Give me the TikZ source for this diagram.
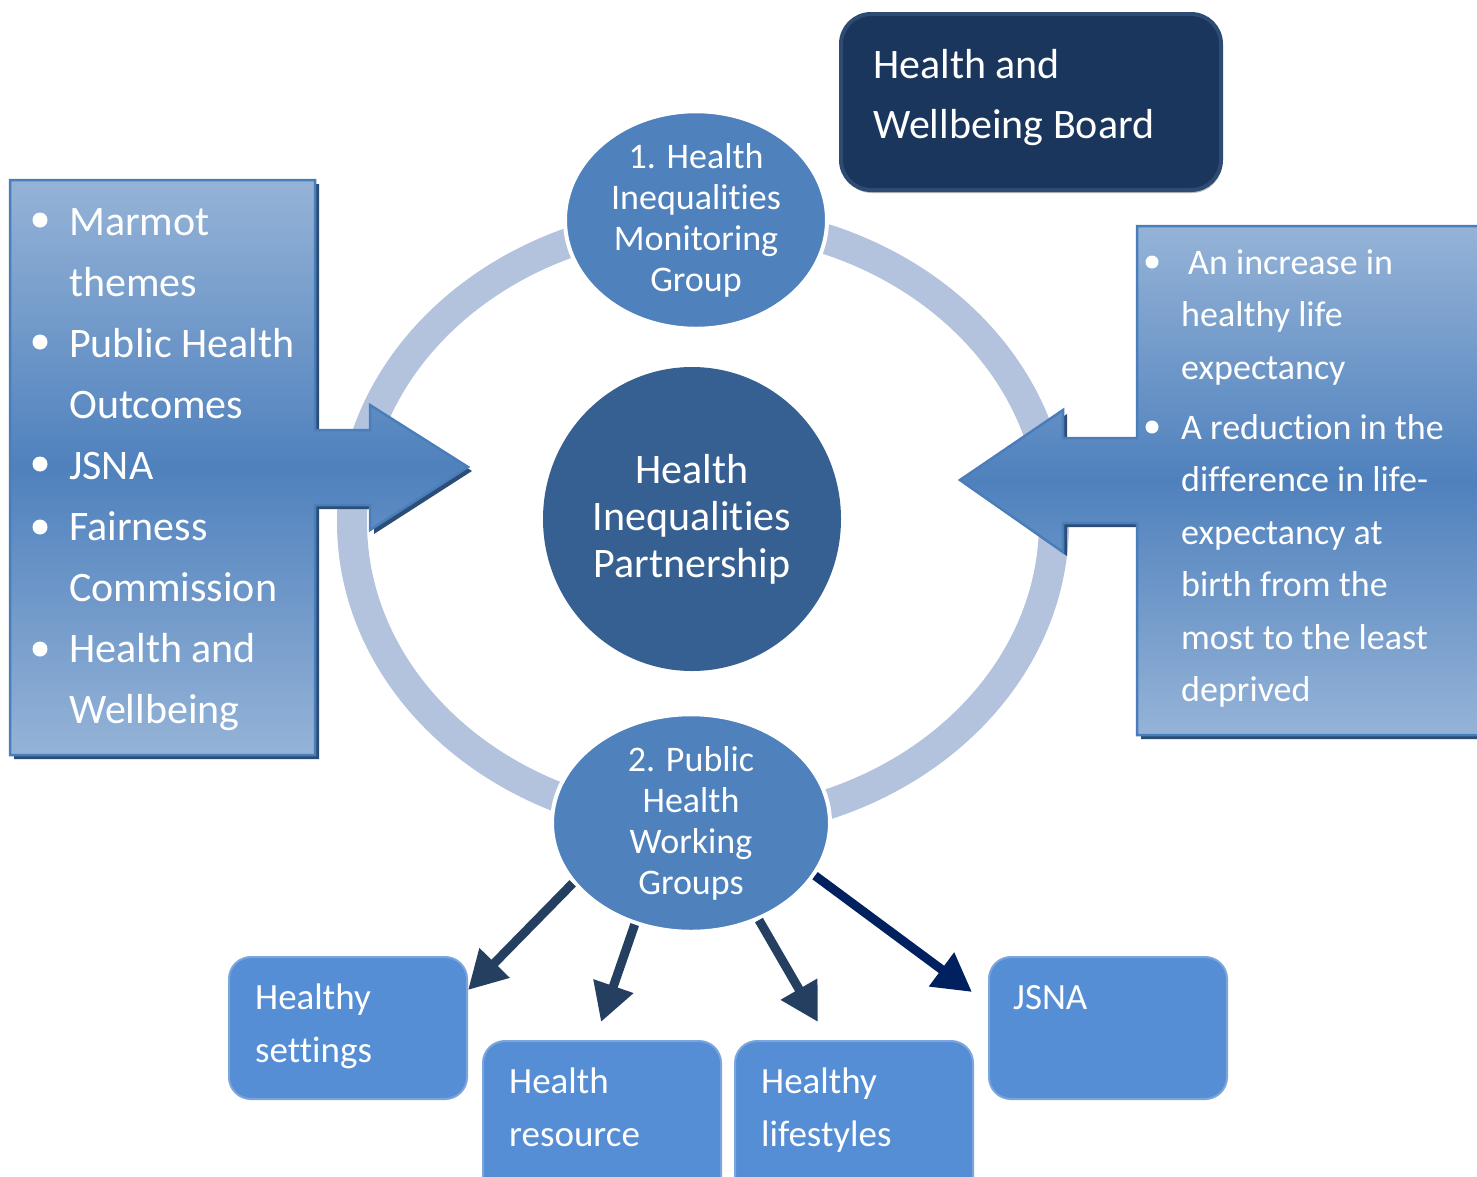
\documentclass[tikz,border=0pt]{standalone}
\usepackage{fontspec}
\setmainfont{Carlito}[Ligatures=NoCommon]
\usetikzlibrary{shapes.geometric,arrows.meta}
\definecolor{ringc}{HTML}{B3C2DD}
\definecolor{midblue}{HTML}{4F81BD}
\definecolor{lightblue}{HTML}{95B3D7}
\definecolor{darkcirc}{HTML}{376092}
\definecolor{boardc}{HTML}{1B365D}
\definecolor{boardedge}{HTML}{2E4B73}
\definecolor{boxc}{HTML}{558ED5}
\definecolor{boxedge}{HTML}{7AA5DD}
\definecolor{shadowc}{HTML}{2C4D75}
\definecolor{calloutedge}{HTML}{4A7EBB}
\definecolor{arrowc}{HTML}{243F60}
\definecolor{arrowd}{HTML}{002060}
\begin{document}
\begin{tikzpicture}[x=1pt,y=-1pt,
  wtxt/.style={text=white, inner sep=0pt},
  circ/.style={ellipse, fill=midblue, draw=white, line width=4pt, inner sep=0pt, text=white, align=center},
  smallbox/.style={rounded corners=22pt, fill=boxc, draw=boxedge, line width=2pt, inner sep=0pt},
  conn/.style={arrowc, line width=9pt, -{Triangle[length=38pt,width=40pt]}},
  bul/.style={circle, fill=white, inner sep=0pt, minimum size=15pt},
  callout/.style={top color=lightblue, bottom color=lightblue, middle color=midblue, draw=calloutedge, line width=2.5pt}
]
\useasboundingbox (0,0) rectangle (1477,1176);
\clip (0,0) rectangle (1477,1176);
\fill[white] (0,0) rectangle (1477,1176);

% ring
\draw[ringc, line width=30pt] (703,522) ellipse [x radius=351, y radius=302];

% left callout
\fill[shadowc] (14,184) -- (319,184) -- (319,434) -- (374,434) -- (374,409) -- (472,471) -- (374,534) -- (374,509) -- (319,509) -- (319,759) -- (14,759) -- cycle;
\path[callout] (10,180) -- (315,180) -- (315,430) -- (370,430) -- (370,405) -- (468,467) -- (370,530) -- (370,505) -- (315,505) -- (315,755) -- (10,755) -- cycle;

% right callout
\fill[shadowc] (1141,230) -- (1494,230) -- (1494,739) -- (1141,739) -- (1141,527) -- (1067,527) -- (1067,556) -- (964,484) -- (1067,414) -- (1067,442) -- (1141,442) -- cycle;
\path[callout] (1137,226) -- (1490,226) -- (1490,735) -- (1137,735) -- (1137,523) -- (1063,523) -- (1063,552) -- (960,480) -- (1063,410) -- (1063,438) -- (1137,438) -- cycle;

% board
\fill[gray!55, rounded corners=30pt] (842,18) rectangle (1222,193);
\node[rounded corners=30pt, fill=boardc, draw=boardedge, line width=4pt, minimum width=380pt, minimum height=176pt, anchor=north west, inner sep=0pt] (hwb) at (839,12) {};
\node[wtxt, anchor=base west, font=\fontsize{42}{60}\selectfont] (hwbt) at (873,78) {\parbox[t]{340pt}{Health and\\Wellbeing Board}};

% circles
\node[circ, minimum width=262pt, minimum height=208pt, font=\fontsize{36}{41}\selectfont] (hm) at (696,220) {1. Health\\Inequalities\\Monitoring\\Group};
\node[circ, fill=darkcirc, draw=none, minimum width=298pt, minimum height=304pt, font=\fontsize{42}{47}\selectfont] (hp) at (692,519) {Health\\Inequalities\\Partnership};
\node[circ, minimum width=278pt, minimum height=208pt, font=\fontsize{36}{41}\selectfont] (pw) at (691,823) {2. Public\\Health\\Working\\Groups};

% left list
\node[bul] (lb1) at (40,220) {};
\node[bul] (lb2) at (40,342) {};
\node[bul] (lb3) at (40,464) {};
\node[bul] (lb4) at (40,527) {};
\node[bul] (lb5) at (40,649) {};
\node[wtxt, anchor=base west, font=\fontsize{42}{61}\selectfont] (lt) at (69,235) {\parbox[t]{260pt}{Marmot\\themes\\Public Health\\Outcomes\\JSNA\\Fairness\\Commission\\Health and\\Wellbeing}};

% right list
\node[bul, minimum size=13pt] (rb1) at (1152,262) {};
\node[bul, minimum size=13pt] (rb2) at (1152,427) {};
\node[wtxt, anchor=base west, font=\fontsize{36}{52.5}\selectfont] (rt1) at (1181,274) {\parbox[t]{290pt}{\hspace*{7pt}An increase in\\healthy life\\expectancy}};
\node[wtxt, anchor=base west, font=\fontsize{36}{52.5}\selectfont] (rt2) at (1181,439) {\parbox[t]{290pt}{A reduction in the\\difference in life-\\expectancy at\\birth from the\\most to the least\\deprived}};

% bottom boxes
\node[smallbox, minimum width=238pt, minimum height=142pt, anchor=north west] (hs) at (228,956) {};
\node[smallbox, minimum width=238pt, minimum height=170pt, anchor=north west] (hr) at (482,1040) {};
\node[smallbox, minimum width=238pt, minimum height=170pt, anchor=north west] (hl) at (734,1040) {};
\node[smallbox, minimum width=238pt, minimum height=142pt, anchor=north west] (js) at (988,956) {};
\node[wtxt, anchor=base west, font=\fontsize{37}{53}\selectfont] (hst) at (255,1009) {\parbox[t]{200pt}{Healthy\\settings}};
\node[wtxt, anchor=base west, font=\fontsize{37}{53}\selectfont] (hrt) at (509,1093) {\parbox[t]{200pt}{Health\\resource}};
\node[wtxt, anchor=base west, font=\fontsize{37}{53}\selectfont] (hlt) at (761,1093) {\parbox[t]{200pt}{Healthy\\lifestyles}};
\node[wtxt, anchor=base west, font=\fontsize{37}{53}\selectfont] (jst) at (1013,1009) {JSNA};

% arrow ends
\coordinate (e1) at (468,990);
\coordinate (e2) at (601,1022);
\coordinate (e3) at (818,1022);
\coordinate (e4) at (972,992);
\draw[conn] (pw.207) -- (e1);
\draw[conn] (pw.241) -- (e2);
\draw[conn] (pw.305) -- (e3);
\draw[conn, arrowd] (pw.337) -- (e4);
\end{tikzpicture}
\end{document}
